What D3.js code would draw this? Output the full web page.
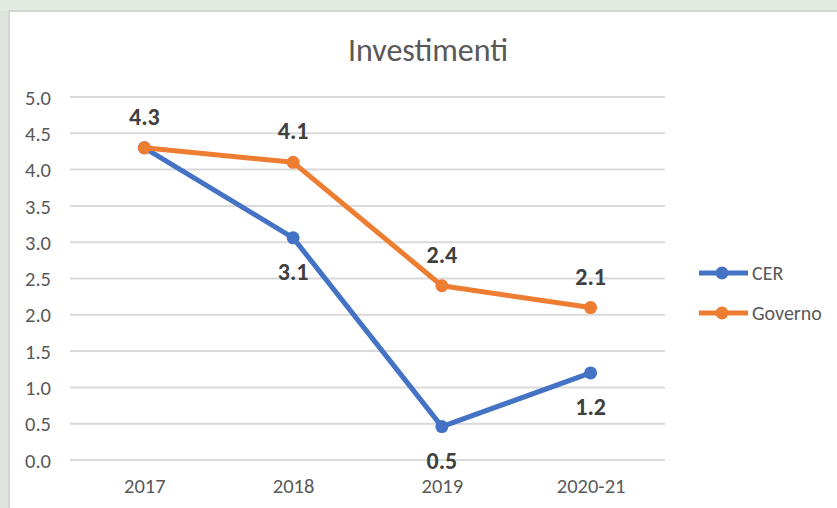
<!DOCTYPE html>
<html>
<head>
<meta charset="utf-8">
<script src="https://cdn.jsdelivr.net/npm/d3@7"></script>
<style>
  html, body { margin: 0; padding: 0; background: #dee5dd; }
  svg { display: block; }
</style>
</head>
<body>
<svg id="chart" width="837" height="508"></svg>
<script>
const categories = ["2017", "2018", "2019", "2020-21"];
const cerValues = [4.3, 3.06, 0.46, 1.2];
const governoValues = [4.3, 4.1, 2.4, 2.1];
const yTicks = [0, 0.5, 1, 1.5, 2, 2.5, 3, 3.5, 4, 4.5, 5];
const seriesNames = ["CER", "Governo"];
const seriesColors = ["#4472C4", "#ED7D31"];
const title = "Investimenti";

const series = [
  { name: seriesNames[0], values: cerValues, color: seriesColors[0], labelPos: "below" },
  { name: seriesNames[1], values: governoValues, color: seriesColors[1], labelPos: "above" }
];

const font = "Carlito, Calibri, 'Open Sans', sans-serif";
const svg = d3.select("#chart");

// outer background
svg.append("rect").attr("x", 0).attr("y", 0).attr("width", 837).attr("height", 508).attr("fill", "#dee5dd");
svg.append("rect").attr("x", 0).attr("y", 0).attr("width", 837).attr("height", 11).attr("fill", "#e3eae2");
// chart area
svg.append("rect").attr("x", 8).attr("y", 10).attr("width", 829).attr("height", 498).attr("fill", "#d4d6d3");
svg.append("rect").attr("x", 10).attr("y", 12).attr("width", 827).attr("height", 496).attr("fill", "#ffffff");

const x = d3.scalePoint().domain(categories).range([70, 665]).padding(0.5);
const y = d3.scaleLinear().domain([0, 5]).range([460, 97]);

// gridlines
svg.append("g").selectAll("line").data(yTicks).join("line")
  .attr("x1", 70).attr("x2", 665)
  .attr("y1", d => y(d)).attr("y2", d => y(d))
  .attr("stroke", "#d9d9d9").attr("stroke-width", 2);

// y axis labels
const yAxis = d3.axisLeft(y).tickValues(yTicks).tickFormat(d3.format(".1f")).tickSize(0).tickPadding(0);
const gy = svg.append("g").attr("transform", "translate(51,0)").call(yAxis);
gy.select(".domain").remove();
gy.selectAll("text").attr("font-family", font).attr("font-size", 20.5).attr("fill", "#595959").attr("dy", "0.35em");

// x axis labels
const xAxis = d3.axisBottom(x).tickSize(0).tickPadding(0);
const gx = svg.append("g").attr("transform", "translate(0,478)").call(xAxis);
gx.select(".domain").remove();
gx.selectAll("text").attr("font-family", font).attr("font-size", 20.5).attr("fill", "#595959").attr("dy", "0.71em");

// title
svg.append("text").attr("x", 428).attr("y", 61).attr("text-anchor", "middle")
  .attr("font-family", font).attr("font-size", 32).attr("fill", "#595959").text(title);

const line = d3.line().x((d, i) => x(categories[i])).y(d => y(d));

series.forEach(s => {
  svg.append("path").datum(s.values).attr("d", line)
    .attr("fill", "none").attr("stroke", s.color).attr("stroke-width", 5)
    .attr("stroke-linejoin", "round");
  svg.append("g").selectAll("circle").data(s.values).join("circle")
    .attr("cx", (d, i) => x(categories[i])).attr("cy", d => y(d)).attr("r", 6.5)
    .attr("fill", s.color);
});

// data labels (CER's 2017 label is hidden behind Governo's in the original)
series.forEach(s => {
  const items = s.values.map((v, i) => ({ v, cat: categories[i], i }))
    .filter(d => !(s.name === "CER" && d.i === 0));
  svg.append("g").selectAll("text").data(items).join("text")
    .attr("x", d => x(d.cat))
    .attr("y", d => y(d.v) + (s.labelPos === "above" ? -23 : 42))
    .attr("text-anchor", "middle")
    .attr("font-family", font).attr("font-size", 24).attr("font-weight", "bold")
    .attr("fill", "#404040")
    .text(d => d3.format(".1f")(d.v));
});

// legend
const legend = svg.append("g");
series.forEach((s, i) => {
  const ly = 273 + i * 40;
  legend.append("line").attr("x1", 699).attr("x2", 748).attr("y1", ly).attr("y2", ly)
    .attr("stroke", s.color).attr("stroke-width", 5);
  legend.append("circle").attr("cx", 722).attr("cy", ly).attr("r", 6.5).attr("fill", s.color);
  legend.append("text").attr("x", 752).attr("y", ly).attr("dy", "0.35em")
    .attr("font-family", font).attr("font-size", 20).attr("fill", "#595959").text(s.name);
});
</script>
</body>
</html>
